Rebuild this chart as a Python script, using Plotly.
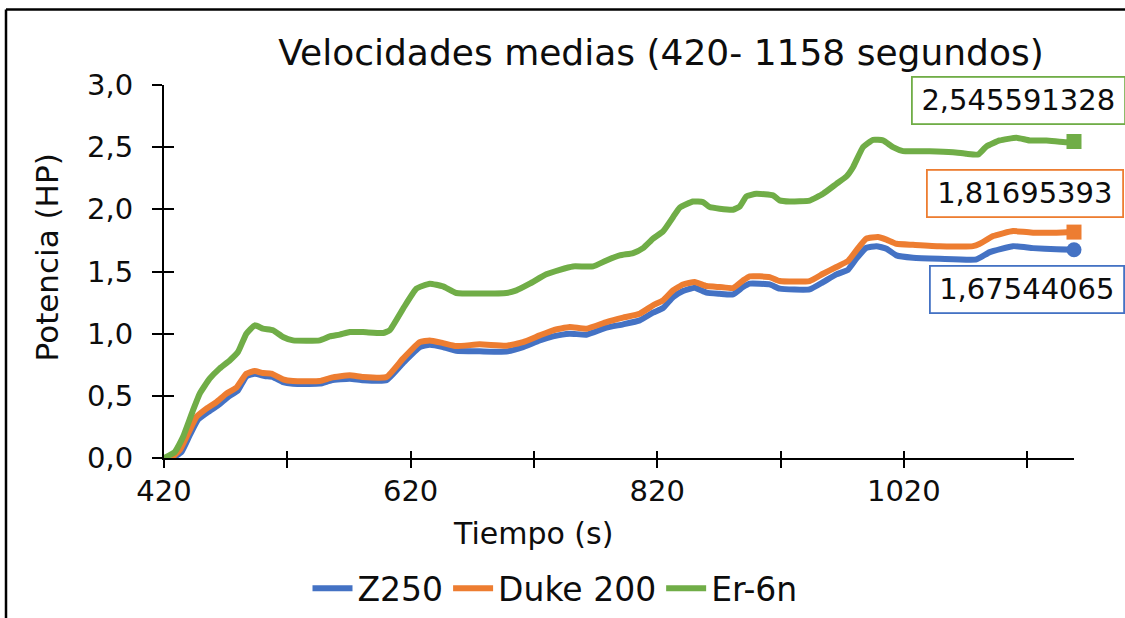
import plotly.graph_objects as go

# ---- data ----
z250_x = [427, 434.1, 440.8, 447.6, 455.7, 463.8, 471.9, 480, 486.8, 493.6, 501.7, 508.4, 516.5, 524.6,
          546.3, 555.8, 570.6, 581.4, 600.4, 613.8, 627.4, 635.5, 646.3, 657, 676, 697.7, 711.2, 724.7,
          735.5, 749, 762.6, 778.8, 792.3, 805.8, 816.6, 824.7, 832.8, 840.9, 850.4, 859.9, 870.6, 881.5,
          889.6, 895, 911.2, 919.3, 943.6, 954.5, 965.3, 974.7, 981.5, 989.6, 997.8, 1005.9, 1014,
          1027.5, 1049.1, 1078.9, 1089.7, 1108.6, 1124.8, 1143.8, 1158]
z250_y = [0.0, 0.048, 0.182, 0.309, 0.37, 0.424, 0.49, 0.544, 0.657, 0.678, 0.659, 0.651, 0.611, 0.598,
          0.598, 0.625, 0.638, 0.625, 0.625, 0.764, 0.892, 0.911, 0.892, 0.862, 0.858, 0.856, 0.892, 0.946,
          0.978, 1.0, 0.992, 1.048, 1.075, 1.107, 1.169, 1.206, 1.294, 1.343, 1.37, 1.33, 1.321, 1.316,
          1.375, 1.402, 1.396, 1.362, 1.356, 1.415, 1.477, 1.514, 1.603, 1.691, 1.704, 1.683, 1.63,
          1.611, 1.603, 1.597, 1.656, 1.704, 1.688, 1.678, 1.67544065]

duke_x = [426, 432.7, 439.5, 446.3, 454.4, 462.5, 470.6, 478.7, 486.8, 493.6, 500.3, 507.1, 516.5, 524.6,
          546.3, 555.8, 570.6, 581.4, 600.4, 613.8, 627.4, 635.5, 646.3, 657, 676, 697.7, 711.2, 724.7,
          735.5, 749, 762.6, 778.8, 792.3, 805.8, 816.6, 824.7, 832.8, 840.9, 850.4, 859.9, 870.6, 881.5,
          889.6, 895, 911.2, 919.3, 943.6, 954.5, 965.3, 974.7, 981.5, 989.6, 999.1, 1005.9, 1014,
          1027.5, 1049.1, 1076.1, 1081.6, 1092.4, 1108.6, 1124.8, 1143.8, 1158]
duke_y = [0.0, 0.062, 0.196, 0.33, 0.397, 0.45, 0.518, 0.566, 0.678, 0.7, 0.683, 0.678, 0.633, 0.619,
          0.619, 0.646, 0.665, 0.651, 0.651, 0.799, 0.932, 0.946, 0.924, 0.9, 0.914, 0.903, 0.932, 0.986,
          1.027, 1.053, 1.04, 1.093, 1.129, 1.161, 1.228, 1.268, 1.348, 1.396, 1.415, 1.383, 1.375, 1.367,
          1.428, 1.461, 1.455, 1.423, 1.423, 1.482, 1.536, 1.584, 1.67, 1.764, 1.777, 1.756, 1.723,
          1.715, 1.704, 1.704, 1.723, 1.785, 1.825, 1.812, 1.812, 1.81695393]

er6n_x = [420, 428.7, 435.4, 443.5, 449, 457, 465, 473.3, 480, 486.8, 493.6, 500.3, 508.4, 516.5, 524.6,
          546.3, 554.4, 562.5, 570.6, 581.4, 597.6, 603, 613.8, 624.7, 635.5, 646.3, 657, 697.7, 705.8,
          716.6, 730, 741, 751.7, 768, 778.8, 789.6, 800.4, 808.5, 816.6, 824.7, 832.8, 838.2, 849,
          857.1, 862.6, 870.6, 881.5, 886.9, 892.3, 900.4, 913.9, 919.3, 927.5, 943.6, 954.5, 965.3,
          973.4, 978.8, 986.9, 995, 1003.1, 1011.2, 1019.4, 1041, 1059.9, 1070.8, 1080.2, 1087, 1097.8,
          1111.3, 1122.1, 1135.6, 1151.9, 1158]
er6n_y = [0.0, 0.048, 0.169, 0.383, 0.518, 0.638, 0.719, 0.785, 0.852, 1.0, 1.067, 1.04, 1.027, 0.973, 0.946,
          0.946, 0.978, 0.992, 1.013, 1.013, 1.005, 1.027, 1.2, 1.362, 1.402, 1.38, 1.327, 1.327, 1.348,
          1.402, 1.477, 1.514, 1.541, 1.541, 1.589, 1.63, 1.648, 1.688, 1.764, 1.822, 1.937, 2.013, 2.063,
          2.058, 2.018, 2.005, 1.997, 2.023, 2.104, 2.125, 2.112, 2.072, 2.063, 2.07, 2.125, 2.205,
          2.264, 2.339, 2.5, 2.559, 2.554, 2.5, 2.468, 2.468, 2.46, 2.447, 2.441, 2.506, 2.554,
          2.576, 2.554, 2.554, 2.54, 2.545591328]

series_names = ["Z250", "Duke 200", "Er-6n"]
series_colors = ["#4472C4", "#ED7D31", "#70AD47"]
end_labels = ["1,67544065", "1,81695393", "2,545591328"]
x_tickvals = [420, 520, 620, 720, 820, 920, 1020, 1120]
x_ticktext = ["420", "", "620", "", "820", "", "1020", ""]
y_tickvals = [0, 0.5, 1.0, 1.5, 2.0, 2.5, 3.0]

FONT = "DejaVu Sans"
TXT = "#0d0d0d"

xs = [z250_x, duke_x, er6n_x]
ys = [z250_y, duke_y, er6n_y]
symbols = ["circle", "square", "square"]

fig = go.Figure()
for name, c, x, y in zip(series_names, series_colors, xs, ys):
    fig.add_trace(go.Scatter(x=x, y=y, mode="lines", name=name,
                             line=dict(color=c, width=6, shape="spline", smoothing=0.4)))
for name, c, x, y, s in zip(series_names, series_colors, xs, ys, symbols):
    fig.add_trace(go.Scatter(x=[x[-1]], y=[y[-1]], mode="markers", showlegend=False, cliponaxis=False,
                             marker=dict(color=c, size=15, symbol=s, line=dict(width=0))))

# invisible trace for the overlay axes (inner tick marks)
fig.add_trace(go.Scatter(x=[420], y=[0], xaxis="x2", yaxis="y2", mode="markers",
                         marker=dict(opacity=0), showlegend=False, hoverinfo="skip"))

# end-value labels
offsets = [(-47, -40, 186), (-49, 39, 188), (-56, 41, 205)]
for lab, c, x, y, (dx, dy, w) in zip(end_labels, series_colors, xs, ys, offsets):
    fig.add_annotation(x=x[-1], y=y[-1], text=lab, showarrow=False, xshift=dx, yshift=dy,
                       xanchor="center", yanchor="middle",
                       font=dict(family=FONT, size=29, color=TXT), bgcolor="white",
                       bordercolor=c, borderwidth=1.8, borderpad=3, width=w, height=39)

L, R, T, B = 164, 51, 84.5, 160.3
W, H = 1125, 618
pw, ph = W - L - R, H - T - B

def px2paper(px, py):
    return (px - L) / pw, (H - B - py) / ph

# axis titles
ax, ay = px2paper(533, 533)
fig.add_annotation(xref="paper", yref="paper", x=ax, y=ay, text="Tiempo (s)", showarrow=False,
                   xanchor="center", yanchor="middle",
                   font=dict(family=FONT, size=30, color=TXT))
ax, ay = px2paper(47, 257)
fig.add_annotation(xref="paper", yref="paper", x=ax, y=ay, text="Potencia (HP)", showarrow=False,
                   xanchor="center", yanchor="middle",
                   textangle=-90, font=dict(family=FONT, size=31, color=TXT))

# outer chart border (top and left edges are visible in the reference)
bx0, by_top = px2paper(6, 9)
bx1, by_bot = px2paper(1125, 618)
fig.add_shape(type="line", xref="paper", yref="paper", x0=bx0, y0=by_top, x1=bx1, y1=by_top,
              line=dict(color="black", width=2.5))
fig.add_shape(type="line", xref="paper", yref="paper", x0=bx0, y0=by_top, x1=bx0, y1=by_bot,
              line=dict(color="black", width=2.5))

tx, ty = px2paper(661, 52)
fig.update_layout(
    width=W, height=H, autosize=False,
    margin=dict(l=L, r=R, t=T, b=B, autoexpand=False),
    paper_bgcolor="white", plot_bgcolor="white",
    separators=",.",
    title=dict(text="Velocidades medias (420- 1158 segundos)", xref="paper", x=tx,
               xanchor="center", yref="container", y=1 - 52 / H, yanchor="middle",
               font=dict(family=FONT, size=36, color=TXT)),
    xaxis=dict(range=[420, 1158], tickvals=x_tickvals, ticktext=x_ticktext, showgrid=False,
               zeroline=False, showline=True, linecolor="black", linewidth=2, automargin=False,
               ticks="outside", ticklen=8, tickwidth=2, tickcolor="black",
               ticklabelstandoff=-2, tickfont=dict(family=FONT, size=29, color=TXT)),
    yaxis=dict(range=[0, 3], tickvals=y_tickvals, tickformat=".1f", showgrid=False,
               zeroline=False, showline=True, linecolor="black", linewidth=2, automargin=False,
               ticks="outside", ticklen=10, tickwidth=2, tickcolor="black",
               ticklabelstandoff=13, tickfont=dict(family=FONT, size=29, color=TXT)),
    xaxis2=dict(overlaying="x", range=[420, 1158], tickvals=x_tickvals, showticklabels=False,
                showgrid=False, zeroline=False, ticks="inside", ticklen=7, tickwidth=2,
                tickcolor="black", side="bottom", automargin=False),
    yaxis2=dict(overlaying="y", range=[0, 3], tickvals=y_tickvals, showticklabels=False,
                showgrid=False, zeroline=False, ticks="inside", ticklen=10, tickwidth=2,
                tickcolor="black", side="left", automargin=False),
    legend=dict(orientation="h", xref="paper", x=px2paper(555, 0)[0], xanchor="center",
                yref="paper", y=px2paper(0, 588)[1], yanchor="middle",
                font=dict(family=FONT, size=33, color=TXT), itemwidth=40,
                bgcolor="rgba(0,0,0,0)", tracegroupgap=0),
    showlegend=True,
)

fig.write_html("out.html", config={"displayModeBar": False},
               post_script="document.body.style.margin='0';document.body.style.overflow='hidden';")
